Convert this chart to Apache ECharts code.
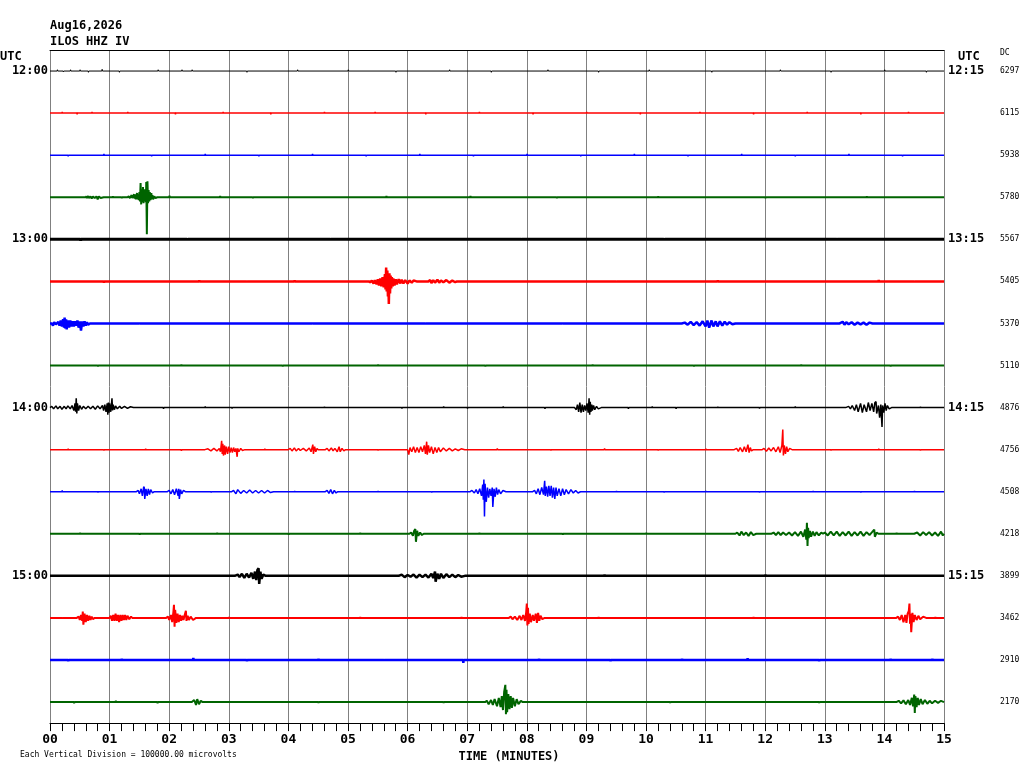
<!DOCTYPE html>
<html><head><meta charset="utf-8">
<script src="https://cdn.jsdelivr.net/npm/echarts@6/dist/echarts.min.js"></script>
<style>html,body{margin:0;padding:0;background:#fff}#c{width:1024px;height:768px}</style>
</head><body><div id="c"></div>
<script>
// ---------- labels ----------
const minuteTicks = ['00','01','02','03','04','05','06','07','08','09','10','11','12','13','14','15'];
const leftTimes  = ['12:00','','','','13:00','','','','14:00','','','','15:00','','',''];
const rightTimes = ['12:15','','','','13:15','','','','14:15','','','','15:15','','',''];
const dcValues   = ['6297','6115','5938','5780','5567','5405','5370','5110','4876','4756','4508','4218','3899','3462','2910','2170'];
const headerDate = 'Aug16,2026';
const headerStation = 'ILOS HHZ IV';
const scaleNote = 'Each Vertical Division = 100000.00 microvolts';
const divisionMilliVolts = 100; // one vertical division = 100000 microvolts = 100 mV

// ---------- traces: [minute, amplitude in mV] ----------
const trace00 = [[0,0],[0.12,0],[0.125,3],[0.13,0],[0.22,0],[0.225,-2],[0.23,0],[0.34,0],[0.345,3],[0.35,0],[0.5,0],[0.505,3],[0.51,0],[0.64,0],[0.645,-3],[0.65,0],[0.87,0],[0.875,4],[0.88,0],[1.16,0],[1.165,-3],[1.17,0],[1.81,0],[1.815,3],[1.82,0],[2.21,0],[2.215,3],[2.22,0],[2.38,0],[2.385,3],[2.39,0],[3.3,0],[3.305,-3],[3.31,0],[4.15,0],[4.155,3],[4.16,0],[5.0,0],[5.005,3],[5.01,0],[5.8,0],[5.805,-3],[5.81,0],[6.7,0],[6.705,3],[6.71,0],[7.4,0],[7.405,-3],[7.41,0],[8.35,0],[8.355,3],[8.36,0],[9.2,0],[9.205,-3],[9.21,0],[10.05,0],[10.055,3],[10.06,0],[11.1,0],[11.105,-3],[11.11,0],[12.25,0],[12.255,3],[12.26,0],[13.1,0],[13.105,-3],[13.11,0],[14.0,0],[14.005,3],[14.01,0],[14.7,0],[14.705,-3],[14.71,0],[15,0]];
const trace01 = [[0,0],[0.2,0],[0.205,3],[0.21,0],[0.45,0],[0.455,-3],[0.46,0],[0.7,0],[0.705,3],[0.71,0],[1.3,0],[1.305,3],[1.31,0],[2.1,0],[2.105,-3],[2.11,0],[2.9,0],[2.905,3],[2.91,0],[3.7,0],[3.705,-3],[3.71,0],[4.6,0],[4.605,3],[4.61,0],[5.45,0],[5.455,3],[5.46,0],[6.3,0],[6.305,-3],[6.31,0],[7.2,0],[7.205,3],[7.21,0],[8.1,0],[8.105,-3],[8.11,0],[9.0,0],[9.005,3],[9.01,0],[9.9,0],[9.905,-3],[9.91,0],[10.9,0],[10.905,3],[10.91,0],[11.8,0],[11.805,-3],[11.81,0],[12.7,0],[12.705,3],[12.71,0],[13.6,0],[13.605,-3],[13.61,0],[14.4,0],[14.405,3],[14.41,0],[15,0]];
const trace02 = [[0,0],[0.3,0],[0.305,-3],[0.31,0],[0.9,0],[0.905,3],[0.91,0],[1.7,0],[1.705,-3],[1.71,0],[2.6,0],[2.605,3],[2.61,0],[3.5,0],[3.505,-3],[3.51,0],[4.4,0],[4.405,3],[4.41,0],[5.3,0],[5.305,-3],[5.31,0],[6.2,0],[6.205,3],[6.21,0],[7.1,0],[7.105,-3],[7.11,0],[8.0,0],[8.005,3],[8.01,0],[8.9,0],[8.905,-3],[8.91,0],[9.8,0],[9.805,3],[9.81,0],[10.7,0],[10.705,-3],[10.71,0],[11.6,0],[11.605,3],[11.61,0],[12.5,0],[12.505,-3],[12.51,0],[13.4,0],[13.405,3],[13.41,0],[14.3,0],[14.305,-3],[14.31,0],[15,0]];
const trace03 = [[0,0],[0.6,0],[0.61,2],[0.62,-2],[0.64,3],[0.65,-2],[0.68,2],[0.7,-3],[0.72,2],[0.75,-2],[0.78,2],[0.8,-5],[0.82,2],[0.85,-2],[0.9,0],[1.05,0],[1.055,2],[1.06,0],[1.2,0],[1.205,-2],[1.21,0],[1.3,0],[1.32,2],[1.34,-2],[1.37,5],[1.38,-2],[1.41,7],[1.42,-3],[1.43,7],[1.44,-5],[1.46,10],[1.47,-5],[1.48,7],[1.49,-7],[1.5,12],[1.51,-10],[1.52,34],[1.53,-17],[1.54,19],[1.55,-12],[1.56,24],[1.57,-14],[1.58,19],[1.59,-10],[1.6,14],[1.61,-12],[1.615,36],[1.625,-88],[1.635,38],[1.645,-14],[1.655,17],[1.665,-10],[1.675,12],[1.685,-7],[1.7,10],[1.71,-5],[1.72,5],[1.73,-5],[1.75,2],[1.77,-2],[1.8,0],[2.0,0],[2.005,4],[2.01,0],[2.85,0],[2.855,3],[2.86,0],[3.4,0],[3.405,-2],[3.41,0],[5.64,0],[5.645,3],[5.65,0],[7.05,0],[7.055,3],[7.06,0],[8.5,0],[8.505,-2],[8.51,0],[10.2,0],[10.205,2],[10.21,0],[12.0,0],[12.005,-2],[12.01,0],[13.7,0],[13.705,2],[13.71,0],[15,0]];
const trace04 = [[0,0],[0.51,0],[0.515,-3],[0.52,0],[2.3,0],[2.305,2],[2.31,0],[4.7,0],[4.705,-2],[4.71,0],[7.9,0],[7.905,-2],[7.91,0],[10.3,0],[10.305,2],[10.31,0],[13.2,0],[13.205,-2],[13.21,0],[15,0]];
const trace05 = [[0,0],[0.9,0],[0.905,-3],[0.91,0],[2.5,0],[2.505,2],[2.51,0],[3.3,0],[3.305,-2],[3.31,0],[4.1,0],[4.105,2],[4.11,0],[5.35,0],[5.37,-2],[5.4,2],[5.43,-5],[5.45,3],[5.48,-7],[5.5,5],[5.52,-10],[5.54,7],[5.56,-12],[5.58,10],[5.6,-14],[5.62,17],[5.63,-19],[5.64,33],[5.65,-24],[5.66,26],[5.67,-36],[5.675,14],[5.685,-54],[5.695,19],[5.705,-29],[5.715,14],[5.725,-17],[5.735,10],[5.75,-12],[5.76,7],[5.78,-10],[5.8,5],[5.82,-7],[5.85,5],[5.88,-5],[5.9,4],[5.93,-5],[5.96,3],[6.0,-5],[6.03,2],[6.07,-3],[6.1,2],[6.15,0],[6.35,0],[6.38,3],[6.4,-4],[6.43,3],[6.46,-3],[6.5,4],[6.53,-3],[6.56,2],[6.6,-2],[6.65,3],[6.7,-3],[6.75,2],[6.8,-2],[6.83,0],[9.5,0],[9.505,-2],[9.51,0],[11.2,0],[11.205,2],[11.21,0],[13.9,0],[13.905,3],[13.91,0],[14.5,0],[14.505,-2],[14.51,0],[15,0]];
const trace06 = [[0,0],[0.03,0],[0.05,-5],[0.07,3],[0.1,-2],[0.14,4],[0.16,-5],[0.18,7],[0.2,-7],[0.22,10],[0.235,-10],[0.245,14],[0.255,-12],[0.27,10],[0.28,-14],[0.3,7],[0.32,-10],[0.34,7],[0.36,-7],[0.38,5],[0.4,-7],[0.42,5],[0.44,-5],[0.46,7],[0.48,-10],[0.5,5],[0.52,-17],[0.54,5],[0.56,-7],[0.58,5],[0.6,-5],[0.62,3],[0.64,-3],[0.67,0],[1.5,0],[1.505,2],[1.51,0],[3.0,0],[3.005,-2],[3.01,0],[4.4,0],[4.405,2],[4.41,0],[6.3,0],[6.305,-2],[6.31,0],[8.6,0],[8.605,2],[8.61,0],[10.6,0],[10.65,2],[10.7,-3],[10.75,4],[10.8,-4],[10.85,3],[10.9,-5],[10.95,5],[11.0,-7],[11.03,7],[11.06,-10],[11.1,7],[11.13,-7],[11.17,5],[11.2,-7],[11.24,5],[11.28,-5],[11.32,4],[11.36,-3],[11.4,3],[11.45,-2],[11.5,0],[13.25,0],[13.3,4],[13.33,-3],[13.36,3],[13.4,-2],[13.45,3],[13.5,-3],[13.55,2],[13.6,-2],[13.65,2],[13.7,-3],[13.75,2],[13.8,0],[15,0]];
const trace07 = [[0,0],[0.8,0],[0.805,-2],[0.81,0],[2.2,0],[2.205,2],[2.21,0],[3.9,0],[3.905,-2],[3.91,0],[5.5,0],[5.505,2],[5.51,0],[7.3,0],[7.305,-2],[7.31,0],[9.1,0],[9.105,2],[9.11,0],[10.8,0],[10.805,-2],[10.81,0],[12.6,0],[12.605,2],[12.61,0],[14.1,0],[14.105,-2],[14.11,0],[15,0]];
const trace08 = [[0,0],[0.03,3],[0.06,-3],[0.1,4],[0.13,-3],[0.17,3],[0.2,-4],[0.24,3],[0.27,-3],[0.3,4],[0.34,-3],[0.37,5],[0.4,-7],[0.42,10],[0.43,-10],[0.44,22],[0.45,-14],[0.46,10],[0.48,-7],[0.5,5],[0.53,-4],[0.56,3],[0.6,-3],[0.64,3],[0.68,-3],[0.72,3],[0.76,-4],[0.8,4],[0.84,-3],[0.88,5],[0.9,-7],[0.92,7],[0.94,-10],[0.96,10],[0.97,-17],[0.98,12],[0.99,-12],[1.0,10],[1.02,-10],[1.04,22],[1.05,-7],[1.06,7],[1.08,-5],[1.1,4],[1.13,-3],[1.17,3],[1.2,-2],[1.25,3],[1.3,-2],[1.35,2],[1.4,0],[1.9,0],[1.905,-3],[1.91,0],[2.6,0],[2.605,3],[2.61,0],[3.05,0],[3.055,-2],[3.06,0],[4.6,0],[4.605,2],[4.61,0],[5.9,0],[5.905,-2],[5.91,0],[6.6,0],[6.605,3],[6.61,0],[7.0,0],[7.005,-2],[7.01,0],[7.6,0],[7.605,3],[7.61,0],[8.3,0],[8.305,-3],[8.31,0],[8.8,0],[8.83,-5],[8.85,7],[8.87,-10],[8.89,12],[8.91,-12],[8.93,7],[8.95,-10],[8.97,5],[8.99,-7],[9.01,10],[9.03,-12],[9.045,22],[9.055,-17],[9.065,14],[9.075,-10],[9.09,7],[9.1,-7],[9.12,5],[9.14,-5],[9.17,3],[9.2,-3],[9.25,0],[9.7,0],[9.705,-3],[9.71,0],[10.1,0],[10.105,3],[10.11,0],[10.5,0],[10.505,-3],[10.51,0],[11.2,0],[11.205,2],[11.21,0],[11.9,0],[11.905,-2],[11.91,0],[12.5,0],[12.505,3],[12.51,0],[13.35,0],[13.4,3],[13.43,-3],[13.46,5],[13.5,-7],[13.53,7],[13.56,-10],[13.6,10],[13.63,-12],[13.66,7],[13.7,-10],[13.73,12],[13.76,-7],[13.79,10],[13.82,-10],[13.84,12],[13.86,14],[13.87,-14],[13.9,5],[13.92,-24],[13.94,7],[13.96,-46],[13.97,5],[13.99,-12],[14.01,10],[14.03,-7],[14.05,5],[14.08,-3],[14.12,0],[14.6,0],[14.605,2],[14.61,0],[15,0]];
const trace09 = [[0,0],[0.3,0],[0.305,2],[0.31,0],[0.9,0],[0.905,-2],[0.91,0],[1.6,0],[1.605,2],[1.61,0],[2.2,0],[2.205,-3],[2.21,0],[2.6,0],[2.65,2],[2.7,-3],[2.75,3],[2.8,-3],[2.84,3],[2.86,-5],[2.88,21],[2.89,-10],[2.9,14],[2.91,-14],[2.93,10],[2.94,-12],[2.96,7],[2.98,-10],[3.0,7],[3.02,-7],[3.04,5],[3.06,-7],[3.08,5],[3.1,-5],[3.12,3],[3.14,-17],[3.15,3],[3.17,-5],[3.2,3],[3.23,-2],[3.27,0],[3.6,0],[3.605,2],[3.61,0],[4.0,0],[4.03,3],[4.06,-3],[4.1,4],[4.13,-3],[4.17,3],[4.2,-2],[4.25,3],[4.3,-3],[4.35,4],[4.38,-5],[4.41,12],[4.42,-10],[4.44,7],[4.46,-5],[4.48,3],[4.5,0],[4.62,0],[4.65,3],[4.68,-3],[4.72,4],[4.75,-3],[4.78,3],[4.82,-5],[4.85,7],[4.87,-5],[4.9,3],[4.93,-3],[4.96,0],[5.5,0],[5.505,-2],[5.51,0],[6.0,0],[6.02,-12],[6.04,5],[6.07,-5],[6.1,7],[6.13,-7],[6.16,5],[6.19,-7],[6.22,7],[6.25,-5],[6.28,10],[6.3,-10],[6.32,19],[6.33,-12],[6.35,10],[6.37,-7],[6.4,7],[6.43,-10],[6.46,5],[6.49,-7],[6.52,5],[6.55,-5],[6.6,4],[6.65,-3],[6.7,3],[6.75,-3],[6.8,2],[6.85,-2],[6.9,2],[6.96,0],[7.5,0],[7.505,3],[7.51,0],[8.4,0],[8.405,-2],[8.41,0],[9.3,0],[9.305,3],[9.31,0],[10.2,0],[10.205,-2],[10.21,0],[11.0,0],[11.005,2],[11.01,0],[11.48,0],[11.52,3],[11.55,-4],[11.58,5],[11.62,-5],[11.65,7],[11.68,-5],[11.71,12],[11.73,-7],[11.75,5],[11.77,-3],[11.8,0],[11.95,0],[11.98,3],[12.02,-4],[12.06,4],[12.1,-3],[12.14,5],[12.18,-5],[12.22,7],[12.25,-7],[12.28,10],[12.295,48],[12.305,-14],[12.32,10],[12.34,-10],[12.36,7],[12.38,-5],[12.41,3],[12.45,0],[13.1,0],[13.105,-2],[13.11,0],[13.9,0],[13.905,2],[13.91,0],[14.6,0],[14.605,-2],[14.61,0],[15,0]];
const trace10 = [[0,0],[0.2,0],[0.205,3],[0.21,0],[0.8,0],[0.805,-2],[0.81,0],[1.45,0],[1.48,3],[1.5,-5],[1.53,7],[1.55,-10],[1.57,10],[1.58,12],[1.59,-17],[1.61,7],[1.63,-10],[1.65,7],[1.67,-7],[1.69,5],[1.72,-3],[1.75,0],[1.97,0],[2.0,3],[2.03,-5],[2.06,5],[2.09,-7],[2.12,7],[2.15,-10],[2.16,7],[2.17,-17],[2.19,5],[2.21,-5],[2.24,3],[2.27,0],[2.7,0],[2.705,-2],[2.71,0],[3.05,0],[3.08,3],[3.12,-5],[3.15,5],[3.2,-4],[3.25,3],[3.3,-3],[3.35,4],[3.4,-3],[3.45,3],[3.5,-3],[3.55,3],[3.6,-3],[3.65,3],[3.7,-2],[3.75,0],[4.1,0],[4.105,2],[4.11,0],[4.62,0],[4.65,3],[4.68,-4],[4.71,5],[4.74,-5],[4.77,3],[4.8,-3],[4.83,0],[5.5,0],[5.505,2],[5.51,0],[6.4,0],[6.405,-2],[6.41,0],[7.05,0],[7.08,3],[7.12,-3],[7.15,5],[7.18,-5],[7.21,7],[7.24,-10],[7.26,17],[7.27,-19],[7.28,29],[7.29,-59],[7.3,19],[7.32,-24],[7.34,10],[7.36,-14],[7.38,7],[7.4,-10],[7.42,10],[7.43,-36],[7.45,7],[7.47,-12],[7.49,10],[7.51,-7],[7.53,5],[7.56,-5],[7.6,3],[7.65,0],[8.1,0],[8.13,3],[8.16,-5],[8.19,7],[8.22,-7],[8.25,10],[8.28,-7],[8.3,26],[8.31,-10],[8.33,12],[8.35,-12],[8.37,14],[8.39,-10],[8.41,14],[8.43,-14],[8.45,10],[8.47,-17],[8.49,10],[8.51,-10],[8.54,7],[8.57,-10],[8.6,7],[8.63,-7],[8.66,5],[8.7,-5],[8.74,5],[8.78,-3],[8.82,3],[8.86,-3],[8.9,0],[9.5,0],[9.505,2],[9.51,0],[10.3,0],[10.305,-2],[10.31,0],[11.0,0],[11.005,2],[11.01,0],[11.9,0],[11.905,-2],[11.91,0],[12.8,0],[12.805,2],[12.81,0],[13.6,0],[13.605,-2],[13.61,0],[14.5,0],[14.505,2],[14.51,0],[15,0]];
const trace11 = [[0,0],[0.5,0],[0.505,2],[0.51,0],[1.5,0],[1.505,-2],[1.51,0],[2.8,0],[2.805,2],[2.81,0],[4.0,0],[4.005,-2],[4.01,0],[5.2,0],[5.205,2],[5.21,0],[6.03,0],[6.06,3],[6.09,-5],[6.11,7],[6.13,11],[6.14,-19],[6.16,7],[6.18,-5],[6.21,3],[6.24,-3],[6.27,0],[7.2,0],[7.205,2],[7.21,0],[8.6,0],[8.605,-2],[8.61,0],[10.0,0],[10.005,2],[10.01,0],[11.5,0],[11.53,3],[11.57,-4],[11.6,5],[11.64,-3],[11.68,3],[11.72,-5],[11.76,4],[11.8,-3],[11.85,0],[12.1,0],[12.14,3],[12.18,-3],[12.22,4],[12.26,-3],[12.3,3],[12.35,-3],[12.4,3],[12.45,-4],[12.5,4],[12.55,-5],[12.6,5],[12.64,-7],[12.67,10],[12.69,-14],[12.7,26],[12.71,-29],[12.72,14],[12.73,-10],[12.75,7],[12.77,-7],[12.8,5],[12.83,-5],[12.86,4],[12.9,-4],[12.94,3],[12.97,0],[13.0,3],[13.05,-4],[13.1,5],[13.15,-4],[13.2,5],[13.25,-5],[13.3,4],[13.35,-4],[13.4,5],[13.45,-5],[13.5,4],[13.55,-4],[13.6,5],[13.65,-5],[13.7,4],[13.75,-3],[13.8,5],[13.83,10],[13.84,-7],[13.87,3],[13.9,0],[14.2,0],[14.205,2],[14.21,0],[14.5,0],[14.55,3],[14.6,-4],[14.65,4],[14.7,-3],[14.75,4],[14.8,-4],[14.85,3],[14.9,-5],[14.95,5],[14.98,-4],[15,0]];
const trace12 = [[0,0],[0.9,0],[0.905,2],[0.91,0],[1.9,0],[1.905,-2],[1.91,0],[2.6,0],[2.605,2],[2.61,0],[3.1,0],[3.15,3],[3.18,-3],[3.22,5],[3.26,-5],[3.3,5],[3.34,-4],[3.38,7],[3.41,-7],[3.44,10],[3.46,-10],[3.48,14],[3.5,18],[3.51,-19],[3.53,10],[3.55,-7],[3.58,3],[3.62,0],[4.3,0],[4.305,2],[4.31,0],[5.0,0],[5.005,-2],[5.01,0],[5.85,0],[5.9,3],[5.95,-3],[6.0,2],[6.05,-2],[6.1,3],[6.15,-4],[6.2,3],[6.25,-3],[6.3,3],[6.35,-4],[6.4,5],[6.43,-5],[6.46,10],[6.47,-14],[6.5,5],[6.53,-7],[6.56,5],[6.6,-5],[6.65,4],[6.7,-3],[6.75,3],[6.8,-3],[6.85,2],[6.9,-2],[6.96,0],[7.6,0],[7.605,2],[7.61,0],[8.4,0],[8.405,-2],[8.41,0],[9.3,0],[9.305,3],[9.31,0],[10.2,0],[10.205,-2],[10.21,0],[11.1,0],[11.105,2],[11.11,0],[12.0,0],[12.005,3],[12.01,0],[13.1,0],[13.105,-2],[13.11,0],[14.2,0],[14.205,2],[14.21,0],[15,0]];
const trace13 = [[0,0],[0.2,0],[0.205,-2],[0.21,0],[0.45,0],[0.48,3],[0.5,-5],[0.52,7],[0.54,-7],[0.55,15],[0.56,-16],[0.58,10],[0.6,-10],[0.62,7],[0.64,-7],[0.66,5],[0.68,-5],[0.7,3],[0.72,-3],[0.75,0],[1.0,0],[1.02,5],[1.04,-7],[1.06,7],[1.08,-7],[1.1,10],[1.12,-7],[1.14,7],[1.16,-10],[1.18,7],[1.2,-7],[1.22,7],[1.24,-5],[1.26,7],[1.28,-5],[1.3,5],[1.33,-3],[1.36,3],[1.38,0],[1.95,0],[1.98,3],[2.0,-5],[2.03,7],[2.05,-10],[2.07,14],[2.08,31],[2.09,-21],[2.1,19],[2.12,-12],[2.14,10],[2.16,-10],[2.18,7],[2.2,-7],[2.22,5],[2.24,-5],[2.26,7],[2.28,17],[2.29,-7],[2.31,5],[2.33,-5],[2.36,3],[2.4,-5],[2.45,0],[3.0,0],[3.005,2],[3.01,0],[4.1,0],[4.105,-2],[4.11,0],[5.2,0],[5.205,2],[5.21,0],[6.1,0],[6.105,-2],[6.11,0],[6.9,0],[6.905,2],[6.91,0],[7.7,0],[7.73,3],[7.76,-3],[7.8,3],[7.84,-5],[7.88,5],[7.91,-5],[7.94,7],[7.97,-7],[7.99,14],[8.0,34],[8.01,-18],[8.02,24],[8.03,-14],[8.05,10],[8.07,-10],[8.1,7],[8.12,-7],[8.15,10],[8.17,-12],[8.19,12],[8.21,-7],[8.23,5],[8.26,-3],[8.3,0],[9.2,0],[9.205,2],[9.21,0],[10.5,0],[10.505,-2],[10.51,0],[11.8,0],[11.805,2],[11.81,0],[13.0,0],[13.005,-2],[13.01,0],[14.2,0],[14.23,3],[14.26,-5],[14.29,7],[14.32,-10],[14.35,7],[14.37,-12],[14.39,10],[14.41,17],[14.42,34],[14.43,-14],[14.44,10],[14.45,-34],[14.47,12],[14.49,-10],[14.51,7],[14.54,-5],[14.57,5],[14.6,-3],[14.65,3],[14.7,0],[14.85,0],[14.855,2],[14.86,0],[15,0]];
const trace14 = [[0,0],[0.3,0],[0.305,-3],[0.31,0],[1.2,0],[1.205,3],[1.21,0],[2.4,0],[2.405,5],[2.41,0],[3.3,0],[3.305,-3],[3.31,0],[4.5,0],[4.505,3],[4.51,0],[5.6,0],[5.605,-2],[5.61,0],[6.93,0],[6.935,-7],[6.94,0],[8.2,0],[8.205,3],[8.21,0],[9.4,0],[9.405,-3],[9.41,0],[10.6,0],[10.605,3],[10.61,0],[11.7,0],[11.705,4],[11.71,0],[12.9,0],[12.905,-3],[12.91,0],[14.1,0],[14.105,3],[14.11,0],[14.8,0],[14.805,3],[14.81,0],[15,0]];
const trace15 = [[0,0],[0.4,0],[0.405,-3],[0.41,0],[1.1,0],[1.105,3],[1.11,0],[1.8,0],[1.805,-3],[1.81,0],[2.38,0],[2.42,5],[2.45,-7],[2.47,7],[2.5,-5],[2.53,3],[2.56,0],[3.3,0],[3.305,2],[3.31,0],[4.5,0],[4.505,-2],[4.51,0],[5.6,0],[5.605,2],[5.61,0],[6.6,0],[6.605,-2],[6.61,0],[7.3,0],[7.33,3],[7.36,-5],[7.4,5],[7.43,-7],[7.46,7],[7.5,-10],[7.53,10],[7.56,-12],[7.58,14],[7.6,-19],[7.62,24],[7.64,41],[7.65,-29],[7.66,29],[7.67,-24],[7.69,19],[7.71,-17],[7.73,14],[7.75,-14],[7.77,10],[7.8,-10],[7.83,7],[7.86,-5],[7.9,3],[7.93,0],[9.0,0],[9.005,2],[9.01,0],[10.4,0],[10.405,-2],[10.41,0],[11.6,0],[11.605,2],[11.61,0],[12.9,0],[12.905,-2],[12.91,0],[14.2,0],[14.24,3],[14.28,-3],[14.32,4],[14.36,-5],[14.4,5],[14.43,-7],[14.46,10],[14.48,-10],[14.5,18],[14.51,-26],[14.52,14],[14.54,-12],[14.56,10],[14.58,-7],[14.61,7],[14.64,-5],[14.68,5],[14.72,-4],[14.76,3],[14.8,-3],[14.85,3],[14.9,-2],[14.95,3],[15,0]];

const traces = [trace00,trace01,trace02,trace03,trace04,trace05,trace06,trace07,trace08,trace09,trace10,trace11,trace12,trace13,trace14,trace15];

// ---------- styles ----------
const traceColors = ['#000000','#ff0000','#0000ff','#006400'];
const traceWidths = [1,1.5,1.5,2,3,2.5,2.5,2,1.5,1.5,1.5,2,2.5,2,2.5,2];
const MONO = '"DejaVu Sans Mono", "Liberation Mono", monospace';

// each trace is drawn as one polyline (custom series) so that no sample is dropped
const series = traces.map((tr, i) => {
  const shifted = tr.map(p => [p[0], p[1] - i * divisionMilliVolts]);
  return {
    type: 'custom',
    coordinateSystem: 'cartesian2d',
    xAxisIndex: 0,
    yAxisIndex: 0,
    data: shifted,
    encode: { x: 0, y: 1 },
    silent: true,
    animation: false,
    z: 3,
    renderItem: (params, api) => {
      if (params.dataIndex !== 0) return null;
      const pts = shifted.map(d => api.coord(d));
      return {
        type: 'polyline',
        silent: true,
        shape: { points: pts },
        style: { stroke: traceColors[i % 4], lineWidth: traceWidths[i], fill: null, lineJoin: 'bevel', lineCap: 'butt' }
      };
    }
  };
});

const nRows = traces.length;
const chart = echarts.init(document.getElementById('c'), null, { renderer: 'canvas' });
chart.setOption({
  animation: false,
  backgroundColor: '#ffffff',
  grid: { left: 50, right: 80, top: 50, bottom: 44, containLabel: false },
  xAxis: [
    {
      type: 'value', min: 0, max: 15, interval: 1, position: 'bottom',
      axisLine: { show: true, onZero: false, lineStyle: { color: '#000', width: 1 } },
      axisTick: { show: true, length: 8, lineStyle: { color: '#000', width: 1 } },
      minorTick: { show: true, splitNumber: 5, length: 8, lineStyle: { color: '#000', width: 1 } },
      minorSplitLine: { show: false },
      axisLabel: { formatter: v => minuteTicks[Math.round(v)], fontFamily: MONO, fontWeight: 'bold', fontSize: 13, color: '#000', margin: 10 },
      splitLine: { show: true, lineStyle: { color: '#808080', width: 1 } },
      name: 'TIME (MINUTES)', nameLocation: 'middle', nameGap: 17,
      nameTextStyle: { fontFamily: MONO, fontWeight: 'bold', fontSize: 12, color: '#000', padding: [0, 0, 0, 24] }
    },
    {
      type: 'value', min: 0, max: 15, position: 'top',
      axisLine: { show: true, onZero: false, lineStyle: { color: '#000', width: 1 } },
      axisTick: { show: false }, axisLabel: { show: false }, splitLine: { show: false }
    }
  ],
  yAxis: [
    { type: 'value', min: -(nRows - 0.5) * divisionMilliVolts, max: 0.5 * divisionMilliVolts, show: false,
      axisLine: { show: false }, splitLine: { show: false } },
    { type: 'category', data: leftTimes, inverse: true, position: 'left', boundaryGap: true,
      axisLine: { show: false }, axisTick: { show: false }, splitLine: { show: false },
      axisLabel: { interval: 0, margin: 2, fontFamily: MONO, fontWeight: 'bold', fontSize: 12, color: '#000' } },
    { type: 'category', data: rightTimes, inverse: true, position: 'right', boundaryGap: true,
      axisLine: { show: false }, axisTick: { show: false }, splitLine: { show: false },
      axisLabel: { interval: 0, margin: 4, fontFamily: MONO, fontWeight: 'bold', fontSize: 12, color: '#000' } },
    { type: 'category', data: dcValues, inverse: true, position: 'right', offset: 56, boundaryGap: true,
      axisLine: { show: false }, axisTick: { show: false }, splitLine: { show: false },
      axisLabel: { interval: 0, margin: 0, fontFamily: MONO, fontSize: 8, color: '#000' } }
  ],
  graphic: [
    { type: 'text', x: 50, y: 26, style: { text: headerDate, font: 'bold 12px ' + MONO, fill: '#000', align: 'left', verticalAlign: 'middle' } },
    { type: 'text', x: 50, y: 42, style: { text: headerStation, font: 'bold 12px ' + MONO, fill: '#000', align: 'left', verticalAlign: 'middle' } },
    { type: 'text', x: 0, y: 57, style: { text: 'UTC', font: 'bold 12px ' + MONO, fill: '#000', align: 'left', verticalAlign: 'middle' } },
    { type: 'text', x: 958, y: 57, style: { text: 'UTC', font: 'bold 12px ' + MONO, fill: '#000', align: 'left', verticalAlign: 'middle' } },
    { type: 'text', x: 1000, y: 53, style: { text: 'DC', font: '8px ' + MONO, fill: '#000', align: 'left', verticalAlign: 'middle' } },
    { type: 'text', x: 20, y: 755, style: { text: scaleNote, font: '8px ' + MONO, fill: '#000', align: 'left', verticalAlign: 'middle' } }
  ],
  series: series
});
</script>
</body></html>
